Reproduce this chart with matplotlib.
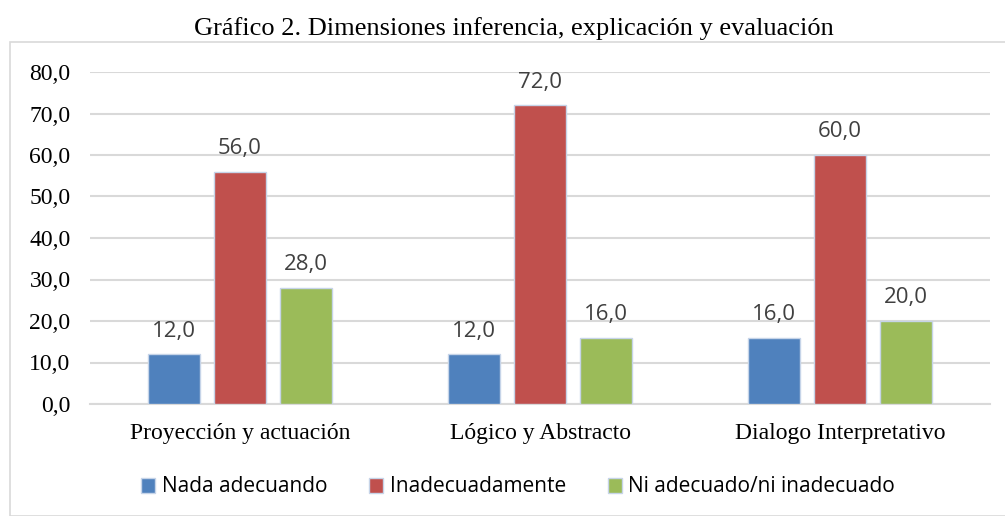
import numpy as np
import matplotlib.pyplot as plt
from matplotlib.patches import Rectangle

categories = ['Proyección y actuación', 'Lógico y Abstracto', 'Dialogo Interpretativo']
series = ['Nada adecuando', 'Inadecuadamente', 'Ni adecuado/ni inadecuado']
nada = [12.0, 12.0, 16.0]
inadecuadamente = [56.0, 72.0, 60.0]
ni_ni = [28.0, 16.0, 20.0]
yticks = [0, 10, 20, 30, 40, 50, 60, 70, 80]

colors = ['#4f81bd', '#c0504d', '#9bbb59']
serif = 'Liberation Serif'
sans = ['Open Sans', 'DejaVu Sans']

fig = plt.figure(figsize=(10.05, 5.16), dpi=100)
ax = fig.add_axes([90/1005, 1 - 404/516, 900/1005, 332/516])

# marco gris
fig.patches.append(Rectangle((10/1005, 0), 1.0, 1 - 42/516, transform=fig.transFigure,
                             fill=False, edgecolor='#d9d9d9', lw=1.2))

x = np.arange(len(categories))
w = 0.173
off = 0.22
for i, (vals, name) in enumerate(zip([nada, inadecuadamente, ni_ni], series)):
    bars = ax.bar(x + (i - 1) * off, vals, w, color=colors[i], label=name,
                  edgecolor='#c6d4e8', lw=1.0, zorder=3)
    for b, v in zip(bars, vals):
        ax.annotate(f'{v:.1f}'.replace('.', ','), (b.get_x() + b.get_width() / 2, v),
                    xytext=(0, 9), textcoords='offset points', ha='center', va='bottom',
                    fontsize=16, color='#404040', family=sans)

ax.set_xlim(-0.5, 2.5)
ax.set_ylim(0, 80)
ax.set_yticks(yticks)
ax.set_yticklabels([f'{t:.1f}'.replace('.', ',') for t in yticks], fontsize=17, family=serif)
ax.set_xticks(x)
ax.set_xticklabels(categories, fontsize=17, family=serif)
ax.tick_params(length=0)
ax.tick_params(axis='y', pad=14)
ax.tick_params(axis='x', pad=14)
ax.grid(axis='y', color='#d9d9d9', lw=1.5, zorder=0)
for s in ['top', 'right', 'left']:
    ax.spines[s].set_visible(False)
ax.spines['bottom'].set_color('#d9d9d9')
ax.spines['bottom'].set_linewidth(1.5)

fig.text(514/1005, 1 - 29/516, 'Gráfico 2. Dimensiones inferencia, explicación y evaluación',
         ha='center', va='center', fontsize=19, family=serif)

fig.legend(loc='center', bbox_to_anchor=(518/1005, 1 - 487/516), ncol=3, frameon=False,
           prop={'family': sans, 'size': 15}, handlelength=0.7, handleheight=0.7,
           handletextpad=0.3, columnspacing=2.0)

fig.savefig('out.png', dpi=100)
